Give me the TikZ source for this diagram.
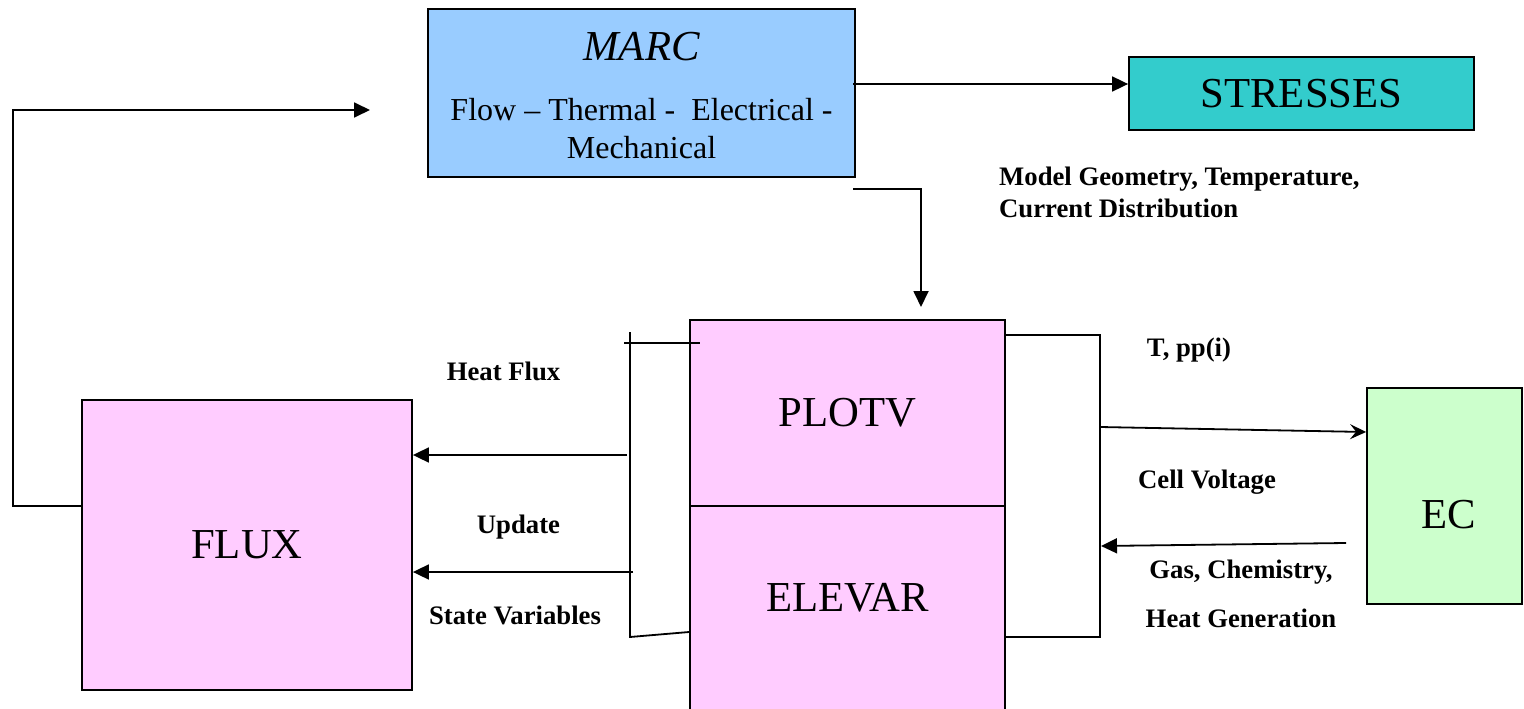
\documentclass[tikz,border=0pt]{standalone}
\usepackage{fontspec}
\setmainfont{Liberation Serif}
\usetikzlibrary{arrows.meta}
\definecolor{marcblue}{HTML}{99CCFF}
\definecolor{stressteal}{HTML}{33CCCC}
\definecolor{pinkbox}{HTML}{FFCCFF}
\definecolor{greenbox}{HTML}{CCFFCC}
\newcommand{\bigfont}{\fontsize{42.7}{50}\selectfont}
\newcommand{\midfont}{\fontsize{32}{38}\selectfont}
\newcommand{\lblfont}{\fontsize{26.7}{32}\selectfont\bfseries}
\tikzset{
  box/.style={draw, line width=1.8pt, inner sep=0pt, font=\bigfont},
  lbl/.style={inner sep=0pt, font=\lblfont},
  conn/.style={line width=1.8pt},
  arr/.style={conn, -{Triangle[length=16pt,width=15pt]}},
  openarr/.style={conn, -{Stealth[length=16pt,width=15pt,inset=6pt]}}
}
\begin{document}
\begin{tikzpicture}[x=1pt,y=-1pt]
\useasboundingbox (0,0) rectangle (1524,709);

% boxes
\node[box, fill=marcblue, minimum width=427pt, minimum height=168pt] (marc) at (641.5,93) {};
\node[anchor=base, inner sep=0pt, font=\bigfont\itshape] (marct) at (641.5,61) {MARC};
\node[anchor=base, inner sep=0pt, font=\midfont] (marcl1) at (641.5,120) {Flow – Thermal -~ Electrical -};
\node[anchor=base, inner sep=0pt, font=\midfont] (marcl2) at (641.5,158) {Mechanical};

\node[box, fill=stressteal, minimum width=345pt, minimum height=73pt] (stresses) at (1301.5,93.5) {STRESSES};

\node[box, fill=pinkbox, minimum width=330pt, minimum height=290pt] (flux) at (247,545) {FLUX};
\node[box, fill=pinkbox, minimum width=315pt, minimum height=214pt] (elevar) at (847.5,613) {};
\node[box, fill=pinkbox, minimum width=315pt, minimum height=186pt] (plotv) at (847.5,413) {PLOTV};
\node[inner sep=0pt, font=\bigfont] (elevart) at (847.5,598) {ELEVAR};
\node[box, fill=greenbox, minimum width=155pt, minimum height=216pt] (ec) at (1444.5,496) {};
\node[inner sep=0pt, font=\bigfont] (ect) at (1449,515) {EC};

% labels
\node[lbl, anchor=north west, align=left] (mgeo) at (999,166.5) {Model Geometry, Temperature,\\Current Distribution};
\node[lbl] (hflux) at (503.5,371.5) {Heat Flux};
\node[lbl] (upd) at (518.5,527.5) {Update};
\node[lbl] (statev) at (515,615.5) {State Variables};
\node[lbl] (tpp) at (1189,350) {T, pp(i)};
\node[lbl] (cellv) at (1207,481.7) {Cell Voltage};
\node[lbl] (gasch) at (1241,571.7) {Gas, Chemistry,};
\node[lbl] (heatg) at (1241,618) {Heat Generation};

% coordinates
\coordinate (m1) at (853,84);
\coordinate (m2) at (853,189);
\coordinate (m3) at (921,307);
\coordinate (fb1) at (13,110);
\coordinate (fb2) at (370,110);
\coordinate (lb1) at (630,332);
\coordinate (lb2) at (630,637);
\coordinate (lt1) at (624,343);
\coordinate (lt2) at (700,343);
\coordinate (hf) at (627,455);
\coordinate (up) at (633,572);
\coordinate (rb1) at (1100,335);
\coordinate (rb2) at (1100,637);
\coordinate (r1) at (1100,427);
\coordinate (r2) at (1346,543);
\coordinate (r3) at (1101,546);

% connectors
\draw[arr] (m1) -- ([yshift=9.5pt]stresses.west);
\draw[arr] (m2) -| (m3);
\draw[arr] ([yshift=39pt]flux.west) -| (fb1) -- (fb2);
\draw[conn] (lb1) -- (lb2) -- ([yshift=-19pt]elevar.west);
\draw[conn] (lt1) -- (lt2);
\draw[arr] (hf) -- (hf -| flux.east);
\draw[arr] (up) -- (up -| flux.east);
\draw[conn] ([yshift=78pt]plotv.east) -- (rb1) -- (rb2) -- ([yshift=-24pt]elevar.east);
\draw[openarr] (r1) -- ([yshift=64pt]ec.west);
\draw[arr] (r2) -- (r3);
\end{tikzpicture}
\end{document}
